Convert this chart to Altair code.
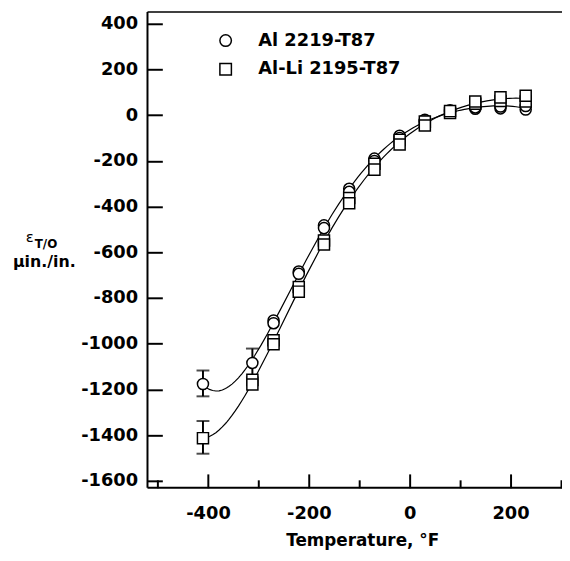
import altair as alt
import pandas as pd

# ---- data ----
temps = [-410, -312, -270, -220, -170, -120, -70, -20, 30, 80, 130, 180, 230]

al2219 = [
    [-1176],
    [-1084],
    [-898, -910],
    [-684, -694],
    [-482, -494],
    [-322, -335],
    [-190, -200],
    [-90, -100],
    [-20, -28],
    [16, 22],
    [28, 34],
    [30, 38],
    [25, 40],
]

al2195 = [
    [-1413],
    [-1158, -1178],
    [-985, -1002],
    [-752, -772],
    [-548, -566],
    [-362, -385],
    [-212, -238],
    [-108, -128],
    [-28, -45],
    [10, 18],
    [50, 60],
    [62, 78],
    [60, 85],
]

series_names = ["Al 2219-T87", "Al-Li 2195-T87"]
series_shapes = ["circle", "square"]

err_series = ["Al 2219-T87", "Al 2219-T87", "Al-Li 2195-T87"]
err_temp = [-410, -312, -410]
err_lo = [-1230, -1147, -1481]
err_hi = [-1117, -1021, -1338]

y_ticks = [-1600, -1400, -1200, -1000, -800, -600, -400, -200, 0, 200, 400]
x_major = [-400, -200, 0, 200]
x_minor = [-500, -300, -100, 100, 300]

# ---- tables ----
rows = []
for name, reps in zip(series_names, [al2219, al2195]):
    for t, vals in zip(temps, reps):
        for v in vals:
            rows.append({"series": name, "temp": t, "value": v})
pts = pd.DataFrame(rows)
err = pd.DataFrame({"series": err_series, "temp": err_temp, "lo": err_lo, "hi": err_hi})

W, H = 419, 481
FONT = "DejaVu Sans"

xscale = alt.Scale(domain=[-520, 302], nice=False, zero=False)
yscale = alt.Scale(domain=[-1630, 452], nice=False, zero=False)

major_x_axis = alt.Axis(
    orient="bottom", values=x_major, tickSize=14, offset=-14, tickWidth=2,
    tickColor="black", domain=False, grid=False, labelPadding=17,
    labelFont=FONT, labelFontSize=18, labelFontWeight="bold", labelColor="black",
    labelExpr="'' + datum.value",
    title="Temperature, °F", titleFont=FONT, titleFontSize=17, titleFontWeight="bold",
    titleColor="black", titleX=217, titleY=72, titleBaseline="alphabetic",
    titleAnchor="start", titleAlign="center",
)
minor_x_axis = alt.Axis(
    orient="bottom", values=x_minor, tickSize=8, offset=-8, tickWidth=2,
    tickColor="black", domain=False, grid=False, labels=False, title=None,
)
y_axis = alt.Axis(
    orient="left", values=y_ticks, tickSize=15, offset=-15, tickWidth=2,
    tickColor="black", domain=False, grid=False, labelPadding=10,
    labelFont=FONT, labelFontSize=18, labelFontWeight="bold", labelColor="black",
    labelExpr="'' + datum.value", title=None,
)

base = alt.Chart(pts)

lines = base.transform_regression(
    "temp", "value", groupby=["series"], method="poly", order=5, extent=[-410, 230]
).mark_line(color="black", strokeWidth=1.2).encode(
    x=alt.X("temp:Q", scale=xscale, axis=minor_x_axis),
    y=alt.Y("value:Q", scale=yscale, axis=None),
    detail="series:N",
)

err_rules = alt.Chart(err).mark_rule(color="black", strokeWidth=2).encode(
    x=alt.X("temp:Q", scale=xscale, axis=None),
    y=alt.Y("lo:Q", scale=yscale, axis=None),
    y2="hi:Q",
)
cap_lo = alt.Chart(err).mark_tick(color="black", thickness=2, size=13, orient="horizontal").encode(
    x=alt.X("temp:Q", scale=xscale, axis=None),
    y=alt.Y("lo:Q", scale=yscale, axis=None),
)
cap_hi = alt.Chart(err).mark_tick(color="black", thickness=2, size=13, orient="horizontal").encode(
    x=alt.X("temp:Q", scale=xscale, axis=None),
    y=alt.Y("hi:Q", scale=yscale, axis=None),
)

shape_scale = alt.Scale(domain=series_names, range=series_shapes)

points = base.mark_point(
    filled=True, fill="white", stroke="black", strokeWidth=1.5, opacity=1, size=125
).encode(
    x=alt.X("temp:Q", scale=xscale, axis=major_x_axis),
    y=alt.Y("value:Q", scale=yscale, axis=y_axis),
    shape=alt.Shape("series:N", scale=shape_scale, legend=None),
)

# manual legend (top-left, inside plot)
legend_items = []
for i, name in enumerate(series_names):
    d = pd.DataFrame({"series": [name]})
    legend_items.append(
        alt.Chart(d).mark_point(
            filled=True, fill="white", stroke="black", strokeWidth=1.5, opacity=1,
            size=135, shape=series_shapes[i]
        ).encode(x=alt.value(79), y=alt.value(29 + 29 * i))
    )
    legend_items.append(
        alt.Chart(d).mark_text(
            font=FONT, fontSize=18, fontWeight="bold", align="left", baseline="middle",
            color="black"
        ).encode(text="series:N", x=alt.value(112), y=alt.value(29 + 29 * i))
    )

frame_df = pd.DataFrame({"a": [0]})
left_rule = alt.Chart(frame_df).mark_rule(color="black", strokeWidth=2).encode(
    x=alt.value(0), y=alt.value(0), y2=alt.value(H)
)
bottom_rule = alt.Chart(frame_df).mark_rule(color="black", strokeWidth=2).encode(
    x=alt.value(0), x2=alt.value(W), y=alt.value(H)
)
top_rule = alt.Chart(frame_df).mark_rule(color="black", strokeWidth=1.5).encode(
    x=alt.value(0), x2=alt.value(W), y=alt.value(0)
)

# y-axis title pieces (epsilon with subscript, units)
eps = alt.Chart(pd.DataFrame({"t": ["ε"]})).mark_text(
    font=FONT, fontSize=15, align="left", baseline="alphabetic", color="black"
).encode(text="t:N", x=alt.value(-123), y=alt.value(233))
sub = alt.Chart(pd.DataFrame({"t": ["T/O"]})).mark_text(
    font=FONT, fontSize=12, fontWeight="bold", align="left", baseline="alphabetic", color="black"
).encode(text="t:N", x=alt.value(-114), y=alt.value(239))
units = alt.Chart(pd.DataFrame({"t": ["µin./in."]})).mark_text(
    font=FONT, fontSize=16, fontWeight="bold", align="left", baseline="alphabetic", color="black"
).encode(text="t:N", x=alt.value(-136), y=alt.value(258))

chart = alt.layer(
    left_rule, bottom_rule, top_rule,
    lines, err_rules, cap_lo, cap_hi, points,
    *legend_items,
    eps, sub, units,
).resolve_axis(x="independent", y="independent").properties(
    width=W, height=H,
    padding={"left": 141, "top": 1, "right": 0, "bottom": 63},
    autosize=alt.AutoSizeParams(type="none"),
    background="white",
).configure_view(stroke=None)

chart.save("out.html", embed_options={"renderer": "svg", "actions": False})
